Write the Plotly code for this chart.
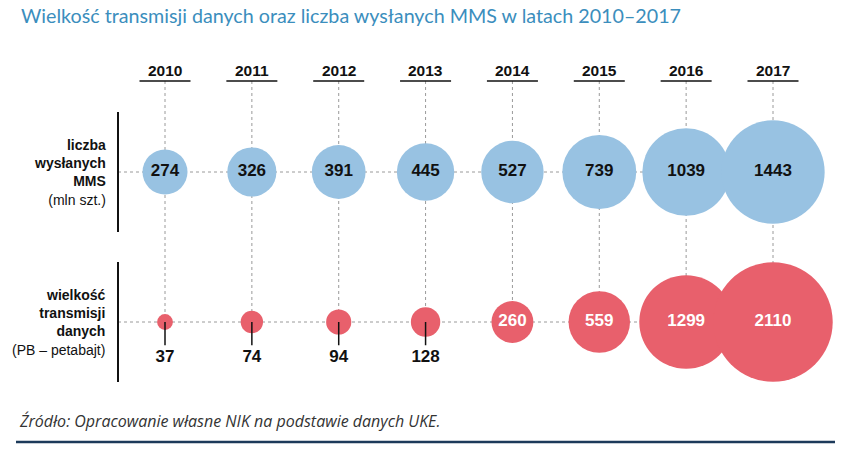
import plotly.graph_objects as go

years = [2010, 2011, 2012, 2013, 2014, 2015, 2016, 2017]
mms = [274, 326, 391, 445, 527, 739, 1039, 1443]
data_pb = [37, 74, 94, 128, 260, 559, 1299, 2110]

title = "Wielkość transmisji danych oraz liczba wysłanych MMS w latach 2010–2017"
source = "Źródło: Opracowanie własne NIK na podstawie danych UKE."
row_mms_label = "<b>liczba<br>wysłanych<br>MMS</b><br>(mln szt.)"
row_data_label = "<b>wielkość<br>transmisji<br>danych</b><br>(PB – petabajt)"

W, H = 852, 467
BLUE = "#98c2e2"
RED = "#e8606c"
GRAY = "#9a9a9a"
NUMFONT = "Liberation Sans"

# axis mapping (px): 2010 -> 165, 2017 -> 773 ; row MMS (1) -> 172, row data (0) -> 322
px_per_year = (773 - 165) / 7
x0 = 2010 - 165 / px_per_year
x1 = 2017 + (W - 773) / px_per_year
px_per_row = 150
y1 = 1 + 172 / px_per_row
y0 = 0 - (H - 322) / px_per_row

Y_MMS, Y_DATA = 1, 0
THRESH = 200

fig = go.Figure()

# MMS bubbles (diameter ~ 2.72*sqrt(v))
fig.add_trace(go.Scatter(
    x=years, y=[Y_MMS] * len(years), mode="markers+text",
    marker=dict(size=mms, sizemode="area", sizeref=2 / 2.72 ** 2, color=BLUE, line=dict(width=0), opacity=1),
    text=[f"<b>{v}</b>" for v in mms], textposition="middle center",
    textfont=dict(family=NUMFONT, size=17, color="#111111"),
    hoverinfo="skip", showlegend=False, cliponaxis=False,
))

# data bubbles (diameter ~ 2.6*sqrt(v))
fig.add_trace(go.Scatter(
    x=years, y=[Y_DATA] * len(years), mode="markers+text",
    marker=dict(size=data_pb, sizemode="area", sizeref=2 / 2.6 ** 2, color=RED, line=dict(width=0), opacity=1),
    text=[f"<b>{v}</b>" if v >= THRESH else "" for v in data_pb], textposition="middle center",
    textfont=dict(family=NUMFONT, size=17, color="white"),
    hoverinfo="skip", showlegend=False, cliponaxis=False,
))

# small labels below
small = [(x, v) for x, v in zip(years, data_pb) if v < THRESH]
fig.add_trace(go.Scatter(
    x=[s[0] for s in small], y=[Y_DATA - 0.235] * len(small), mode="text",
    text=[f"<b>{s[1]}</b>" for s in small], textposition="middle center",
    textfont=dict(family=NUMFONT, size=17, color="#111111"),
    hoverinfo="skip", showlegend=False, cliponaxis=False,
))

shapes = []
yr_line_y = 1 + (172 - 81) / px_per_row
for x in years:
    shapes.append(dict(type="line", xref="x", yref="y", x0=x, x1=x, y0=yr_line_y, y1=Y_DATA,
                       line=dict(color=GRAY, width=1, dash="3px,3px"), layer="below"))
    half = 25.5 / px_per_year
    shapes.append(dict(type="line", xref="x", yref="y", x0=x - half, x1=x + half, y0=yr_line_y, y1=yr_line_y,
                       line=dict(color="#111111", width=1.6)))
for yv in (Y_MMS, Y_DATA):
    shapes.append(dict(type="line", xref="paper", yref="y", x0=118 / W, x1=(years[-1] - x0) / (x1 - x0),
                       y0=yv, y1=yv, line=dict(color=GRAY, width=1, dash="3px,3px"), layer="below"))
    shapes.append(dict(type="line", xref="paper", yref="y", x0=118 / W, x1=118 / W,
                       y0=yv - 0.4, y1=yv + 0.4, line=dict(color="#111111", width=2)))
for x, v in small:
    shapes.append(dict(type="line", xref="x", yref="y", x0=x, x1=x, y0=Y_DATA, y1=Y_DATA - 0.155,
                       line=dict(color="#111111", width=1.5), layer="above"))
shapes.append(dict(type="line", xref="paper", yref="paper", x0=16 / W, x1=835 / W,
                   y0=1 - 442 / H, y1=1 - 442 / H, line=dict(color="#1c3a5a", width=2.5)))

annotations = []
for x in years:
    annotations.append(dict(x=x, y=1 + (172 - 70) / px_per_row, xref="x", yref="y",
                            text=f"<b>{x}</b>", showarrow=False,
                            font=dict(family=NUMFONT, size=15.5, color="#111111"),
                            xanchor="center", yanchor="middle"))
for yv, lab in ((Y_MMS, row_mms_label), (Y_DATA, row_data_label)):
    annotations.append(dict(x=108 / W, y=yv, xref="paper", yref="y", text=lab, showarrow=False,
                            align="right", xanchor="right", yanchor="middle",
                            font=dict(family=NUMFONT, size=14, color="#111111")))
annotations.append(dict(x=19 / W, y=1 - 15 / H, xref="paper", yref="paper", text=title, showarrow=False,
                        xanchor="left", yanchor="middle",
                        font=dict(family="Lato", size=19.7, color="#3b8ebd")))
annotations.append(dict(x=17 / W, y=1 - 421 / H, xref="paper", yref="paper", text=f"<i>{source}</i>",
                        showarrow=False, xanchor="left", yanchor="middle",
                        font=dict(family="Open Sans", size=16, color="#333333")))

fig.update_layout(
    width=W, height=H,
    margin=dict(l=0, r=0, t=0, b=0),
    paper_bgcolor="white", plot_bgcolor="white",
    xaxis=dict(range=[x0, x1], visible=False, fixedrange=True),
    yaxis=dict(range=[y0, y1], visible=False, fixedrange=True),
    shapes=shapes, annotations=annotations,
    showlegend=False,
)

fig.write_html("out.html", config={"displayModeBar": False},
               post_script="document.body.style.margin='0';")
